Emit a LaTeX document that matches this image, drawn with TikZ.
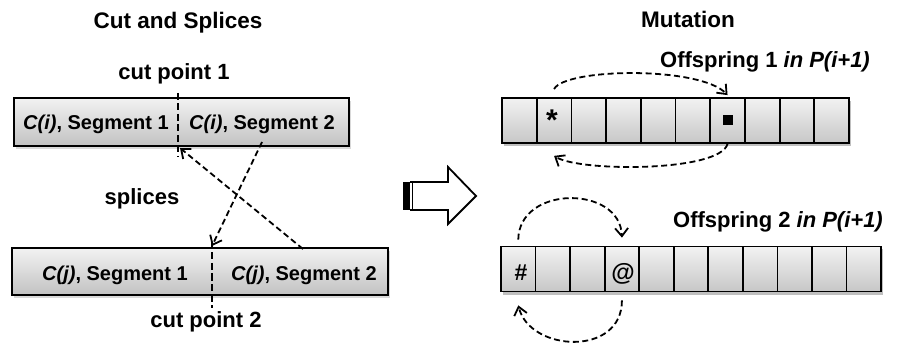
\documentclass[tikz,border=0pt]{standalone}
\usepackage{fontspec}
\setmainfont{Liberation Sans}
\usetikzlibrary{arrows.meta,shadows}
\begin{document}
\begin{tikzpicture}[x=1pt,y=-1pt,
  lbl/.style={font=\fontsize{22}{26}\selectfont\bfseries, inner sep=0pt, anchor=base},
  seg/.style={font=\fontsize{20}{24}\selectfont\bfseries, inner sep=0pt, anchor=base},
  bar/.style={draw=black, line width=2pt, top color=white!95!black, bottom color=white!76!black,
    inner sep=0pt, drop shadow={opacity=0.3, shadow xshift=2pt, shadow yshift=-3pt}},
  cell/.style={draw=black, line width=1.8pt, top color=white!95!black, bottom color=white!78!black,
    minimum height=45pt, inner sep=0pt},
  shd/.style={fill=black, opacity=0.25},
  dsh/.style={line width=1.8pt, dash pattern=on 6pt off 3.5pt},
  cutl/.style={line width=2.6pt, dash pattern=on 7pt off 3.5pt},
  sarrow/.style={dsh, -{Straight Barb[length=8pt,width=13pt,line width=1.8pt]}}
]
\useasboundingbox (0,0) rectangle (907,347);

% ---------- left: cut and splices ----------
\node[lbl, font=\fontsize{22.5}{26}\selectfont\bfseries] (tcut) at (178,29) {Cut and Splices};
\node[lbl] (cp1) at (174,80) {cut point 1};

\node[bar, minimum width=335pt, minimum height=48pt] (boxI) at (181.5,122) {};
\node[seg] (si1) at (96,130) {\textit{C(i)}, Segment 1};
\node[seg] (si2) at (262,130) {\textit{C(i)}, Segment 2};

\node[bar, minimum width=376pt, minimum height=47pt] (boxJ) at (200,271.5) {};
\node[seg] (sj1) at (115,280) {\textit{C(j)}, Segment 1};
\node[seg] (sj2) at (304,280) {\textit{C(j)}, Segment 2};

\coordinate (c1t) at (178,93);
\coordinate (c1b) at (178,157);
\draw[cutl] (c1t) -- (c1b);
\coordinate (c2t) at (212,242);
\coordinate (c2b) at (212,308);
\draw[cutl] (c2t) -- (c2b);

\node[lbl] (cp2) at (206,327) {cut point 2};
\node[lbl] (spl) at (142,205) {splices};

\coordinate (sAs) at (262,142);
\coordinate (sAe) at (212,246);
\coordinate (sBs) at (303,249);
\coordinate (sBe) at (180,148);
\draw[sarrow] (sAs) -- (sAe);
\draw[sarrow] (sBs) -- (sBe);

% ---------- block arrow ----------
\fill[black] (403,182) rectangle (410,210);
\draw[line width=1.2pt] (412.5,182) -- (412.5,210);
\draw[line width=1.8pt, line join=miter] (410,182) -- (448,182) -- (448,167) -- (476,196)
  -- (448,224) -- (448,210) -- (410,210);

% ---------- right: mutation ----------
\node[lbl, font=\fontsize{22.5}{26}\selectfont\bfseries] (tmut) at (688,28) {Mutation};
\node[lbl] (off1) at (765,68) {Offspring 1 \textit{in P(i+1)}};
\node[lbl] (off2) at (778,228) {Offspring 2 \textit{in P(i+1)}};

\fill[shd] (504,101) rectangle (851,146);
\foreach \i in {1,...,10}{
  \node[cell, minimum width=34.7pt] (a\i) at ({502+(\i-0.5)*34.7},120.5) {};
}
\fill[shd] (503,249) rectangle (883,295);
\foreach \i in {1,...,11}{
  \node[cell, minimum width=34.55pt] (b\i) at ({501+(\i-0.5)*34.55},269) {};
}

\node[font=\fontsize{30}{34}\selectfont\bfseries, inner sep=0pt, anchor=base] (ast) at (552,131) {*};
\node[fill=black, minimum size=10pt, inner sep=0pt] (sq) at (727.5,120) {};
\node[font=\fontsize{23}{27}\selectfont\bfseries, inner sep=0pt, anchor=base] (hash) at (521,280) {\#};
\node[font=\fontsize{24}{28}\selectfont\bfseries, inner sep=0pt, anchor=base] (at) at (623,280) {@};

\draw[sarrow] ([yshift=8pt]a2.north) .. controls (565,68) and (700,66) .. ([yshift=2pt]a7.north);
\draw[sarrow] (a7.south) .. controls (720,172) and (580,172) .. ([yshift=-12pt]a2.south);
\draw[sarrow] ([yshift=6pt]b1.north) .. controls (519,185) and (620,185) .. ([yshift=8pt]b4.north);
\draw[sarrow] ([yshift=-8pt]b4.south) .. controls (622,357) and (530,352) .. ([yshift=-13pt]b1.south);
\end{tikzpicture}
\end{document}
